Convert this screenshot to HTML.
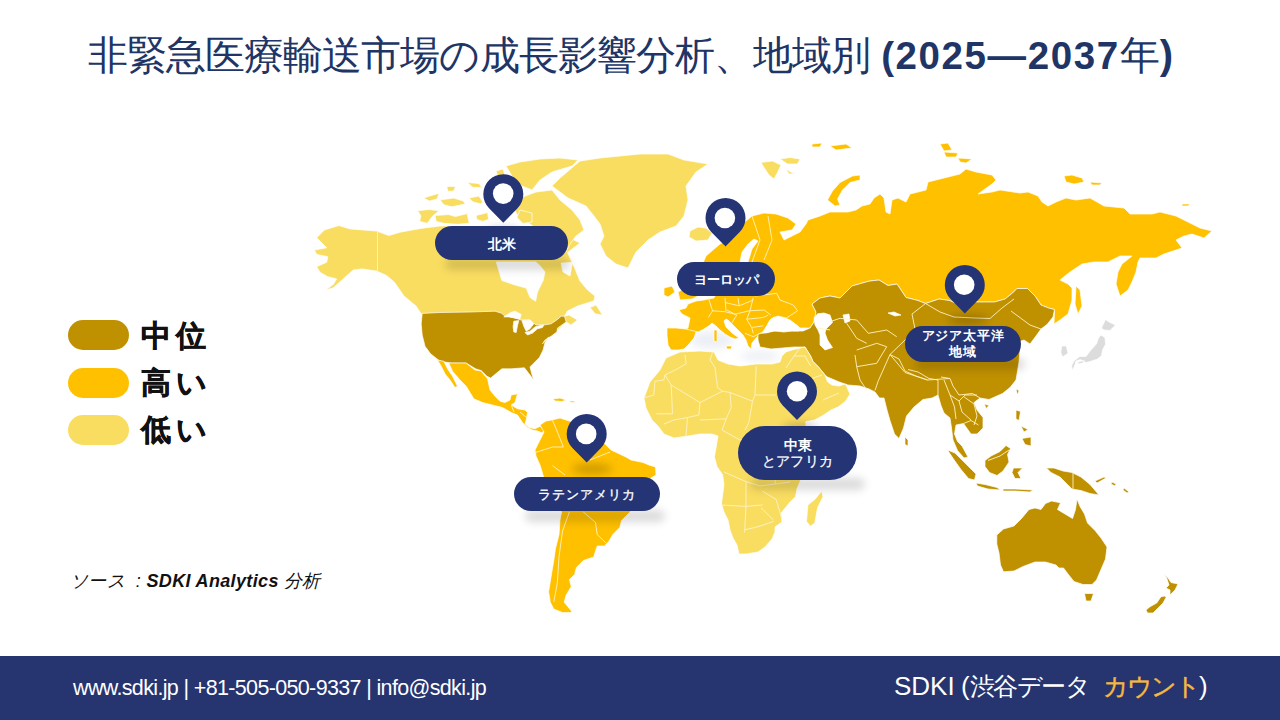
<!DOCTYPE html>
<html><head><meta charset="utf-8">
<style>
html,body{margin:0;padding:0;}
body{width:1280px;height:720px;position:relative;overflow:hidden;background:#fff;font-family:"Liberation Sans",sans-serif;}
.abs{position:absolute;}
.title{left:88px;top:27px;font-size:40px;line-height:56px;color:#203566;white-space:nowrap;letter-spacing:0px;}
.title b{font-weight:bold;}
.pill{position:absolute;left:68px;width:61px;height:30px;border-radius:15px;}
.leg{position:absolute;left:141px;font-size:30px;font-weight:bold;color:#111;line-height:36px;letter-spacing:4.5px;-webkit-text-stroke:0.5px #111;}
.src{left:70px;top:569px;font-size:18px;font-style:italic;color:#111;white-space:nowrap;letter-spacing:0.35px;}
.footer{left:0;top:656px;width:1280px;height:64px;background:#263470;}
.ft1{left:73px;top:676px;font-size:21.5px;letter-spacing:-0.65px;color:#fff;white-space:nowrap;}
.ft2{left:894px;top:670px;font-size:26px;color:#fff;white-space:nowrap;}
.lbl{position:absolute;background:#253475;color:#fff;font-weight:bold;font-size:13px;text-align:center;white-space:nowrap;}
svg{position:absolute;left:0;top:0;}
</style></head><body>
<div class="abs title"><span style="letter-spacing:-0.95px">非緊急医療輸送市場の成長影響分析、地域別</span> <b style="font-size:38.5px;letter-spacing:1.6px">(2025—2037</b>年<b>)</b></div>

<div class="pill" style="top:320px;background:#BF9000"></div>
<div class="pill" style="top:368px;background:#FFC000"></div>
<div class="pill" style="top:415px;background:#F9DD61"></div>
<div class="leg" style="top:318px">中位</div>
<div class="leg" style="top:365px">高い</div>
<div class="leg" style="top:412px">低い</div>

<div class="abs src">ソース&nbsp; : <b>SDKI Analytics</b> 分析</div>

<svg width="1280" height="720" viewBox="0 0 1280 720">
<defs>
<filter id="blur6" x="-50%" y="-100%" width="200%" height="300%"><feGaussianBlur stdDeviation="4"/></filter>
</defs>
<g filter="url(#blur6)" fill="#DDE2EC" opacity="0.55"><ellipse cx="712" cy="340" rx="22" ry="9"/><ellipse cx="760" cy="356" rx="20" ry="5"/><ellipse cx="520" cy="265" rx="25" ry="6"/></g>
<g stroke="#fff" stroke-width="0.7" stroke-linejoin="round">
<path d="M314.4 250.0 L326.7 247.8 L322.2 243.3 L316.7 237.8 L324.4 230.0 L338.9 225.6 L350.0 228.9 L376.7 231.1 L388.9 235.6 L400.0 232.2 L412.0 230.0 L424.0 228.0 L440.0 226.0 L460.0 226.0 L500.0 226.0 L540.0 228.0 L566.0 232.0 L574.0 240.0 L580.0 243.0 L567.5 252.5 L575.0 268.8 L580.0 281.0 L587.5 290.0 L595.0 296.0 L593.8 301.0 L577.5 306.0 L567.5 311.0 L564.4 316.2 L569.0 315.0 L577.5 320.0 L571.0 325.0 L566.2 321.9 L556.2 331.2 L548.8 336.9 L545.0 342.5 L543.1 350.0 L539.4 357.5 L530.0 366.9 L531.9 374.4 L533.8 380.0 L528.1 372.5 L524.4 367.8 L511.2 368.8 L501.9 368.8 L490.6 378.1 L486.9 376.2 L481.2 370.6 L475.6 368.8 L466.2 363.1 L451.2 363.1 L440.0 361.2 L437.5 360.0 L430.6 353.8 L425.0 346.2 L422.2 335.0 L421.2 323.8 L422.0 315.0 L416.0 306.0 L404.0 296.0 L394.4 282.2 L386.7 275.6 L376.7 271.1 L362.2 268.9 L353.3 270.0 L344.4 277.8 L333.3 287.8 L325.6 290.0 L333.3 284.4 L336.7 278.9 L327.8 276.7 L320.0 272.2 L316.7 266.7 L326.7 262.2 L327.8 256.7 L316.7 254.4Z" fill="#F9DD61"/>
<path d="M496.2 262.0 L501.9 280.6 L515.0 285.0 L526.2 288.1 L530.0 297.5 L535.6 301.2 L537.5 291.9 L543.1 280.6 L545.0 272.0 L539.4 265.0 L535.6 261.9Z" fill="#fff"/>
<path d="M561.0 263.0 L572.5 262.5 L570.0 276.0 L563.0 272.0Z" fill="#fff"/>
<path d="M590.0 307.5 L596.0 305.0 L602.5 315.0 L595.0 313.8Z" fill="#F9DD61"/>
<path d="M506.0 166.0 L520.0 162.0 L540.0 159.0 L560.0 158.0 L578.0 160.0 L572.0 166.0 L552.0 172.0 L540.0 180.0 L532.0 190.0 L522.0 186.0 L512.0 176.0Z" fill="#F9DD61"/>
<path d="M496.0 171.0 L503.0 169.0 L506.0 178.0 L499.0 180.0Z" fill="#F9DD61"/>
<path d="M520.0 198.0 L536.0 192.0 L552.0 190.0 L560.0 200.0 L572.0 210.0 L580.0 220.0 L584.0 230.0 L576.0 236.0 L570.0 244.0 L566.0 252.0 L556.0 248.0 L544.0 234.0 L530.0 224.0 L518.0 216.0 L512.0 206.0Z" fill="#F9DD61"/>
<path d="M520.0 210.0 L532.0 213.0 L532.0 222.0 L523.0 223.5 L517.0 217.5Z" fill="#F9DD61"/>
<path d="M417.6 210.7 L429.0 209.5 L439.0 210.7 L432.2 216.5 L427.4 223.3 L419.6 221.4 L421.0 216.0Z" fill="#F9DD61"/>
<path d="M435.1 215.5 L448.7 214.6 L455.5 216.5 L467.2 213.6 L469.1 223.3 L457.5 224.3 L443.9 223.3 L436.1 221.4Z" fill="#F9DD61"/>
<path d="M476.0 215.5 L487.6 212.6 L488.6 219.4 L482.7 221.4 L476.9 219.4Z" fill="#F9DD61"/>
<path d="M423.5 198.0 L439.0 193.2 L437.1 199.0 L429.3 201.0Z" fill="#F9DD61"/>
<path d="M440.0 200.0 L453.6 198.0 L463.3 201.0 L465.3 203.9 L451.7 206.8 L443.9 204.8Z" fill="#F9DD61"/>
<path d="M469.1 198.0 L478.9 196.1 L482.7 201.9 L480.8 203.9 L473.0 201.9Z" fill="#F9DD61"/>
<path d="M446.8 186.4 L455.5 186.4 L453.6 191.2 L447.8 191.2Z" fill="#F9DD61"/>
<path d="M467.2 182.5 L478.9 183.5 L481.8 187.4 L473.0 187.4Z" fill="#F9DD61"/>
<path d="M580.0 161.0 L600.0 158.0 L620.0 156.0 L640.0 154.0 L668.0 154.0 L684.0 160.0 L708.0 164.0 L696.0 172.0 L686.0 186.0 L688.0 200.0 L684.0 216.0 L676.0 226.0 L660.0 232.0 L648.0 240.0 L636.0 252.0 L628.0 268.0 L616.0 264.0 L606.0 256.0 L600.0 244.0 L604.0 236.0 L600.0 224.0 L594.0 216.0 L586.0 206.0 L568.0 198.0 L552.0 186.0 L560.0 178.0Z" fill="#F9DD61"/>
<path d="M690.0 231.0 L698.0 227.0 L706.0 228.0 L712.0 233.0 L708.0 240.0 L696.0 241.0 L689.0 237.0Z" fill="#F9DD61"/>
<path d="M761.0 162.5 L772.5 161.0 L781.0 165.0 L777.5 172.5 L774.0 179.0 L769.0 175.0 L764.0 167.5Z" fill="#F9DD61"/>
<path d="M780.0 159.0 L790.0 157.5 L800.0 159.0 L797.5 164.0 L787.5 164.0Z" fill="#F9DD61"/>
<path d="M786.0 169.0 L794.0 174.0 L789.0 174.0Z" fill="#F9DD61"/>
<path d="M422.2 313.4 L440.0 312.5 L470.0 312.0 L495.0 311.2 L501.2 313.1 L504.4 315.6 L515.0 318.0 L521.0 320.0 L530.0 320.0 L536.0 325.0 L543.8 325.0 L551.2 323.8 L557.5 319.4 L561.2 316.2 L564.4 316.2 L566.2 321.9 L557.5 328.1 L556.9 331.9 L551.2 336.2 L545.0 340.0 L542.5 343.8 L548.8 336.9 L545.0 342.5 L543.1 350.0 L539.4 357.5 L530.0 366.9 L531.9 374.4 L533.8 380.0 L528.1 372.5 L524.4 367.8 L511.2 368.8 L501.9 368.8 L490.6 378.1 L486.9 376.2 L481.2 370.6 L475.6 368.8 L466.2 363.1 L451.2 363.1 L440.0 361.2 L430.6 353.8 L425.0 346.2 L422.2 335.0 L421.2 323.8Z" fill="#BF9000"/>
<path d="M448.8 363.0 L466.0 363.0 L475.0 370.0 L481.0 371.0 L487.5 378.8 L490.0 390.0 L495.0 396.2 L500.0 401.2 L505.0 402.5 L510.0 400.0 L511.2 395.0 L517.5 393.8 L515.0 402.5 L511.2 405.0 L517.5 408.8 L525.0 410.0 L527.5 412.5 L526.2 420.0 L525.0 423.8 L528.8 427.5 L535.0 428.8 L540.0 426.2 L543.8 430.0 L542.5 433.0 L537.5 431.0 L532.5 430.0 L527.5 427.5 L522.5 422.5 L517.5 415.0 L511.2 412.5 L502.5 407.5 L492.5 405.0 L482.5 402.5 L473.8 398.8 L470.0 392.5 L466.2 386.2 L460.0 380.0 L452.5 371.2Z" fill="#FFC000"/>
<path d="M437.5 360.0 L443.8 361.2 L447.5 368.8 L452.5 376.2 L457.5 386.2 L455.0 387.5 L450.0 380.0 L445.0 373.8 L441.2 366.2Z" fill="#FFC000"/>
<path d="M553.0 399.0 L560.0 398.0 L566.0 400.0 L562.0 401.5 L555.0 401.0Z" fill="#FFC000"/>
<path d="M570.0 401.0 L575.0 401.0 L574.0 402.5 L570.0 402.5Z" fill="#FFC000"/>
<path d="M540.0 425.0 L546.0 421.0 L552.0 420.0 L560.0 418.0 L566.0 420.0 L580.0 424.0 L597.0 437.5 L605.0 444.0 L611.0 450.0 L626.0 457.0 L631.0 460.0 L643.0 462.5 L649.0 465.0 L655.6 467.0 L656.0 475.0 L651.0 478.0 L640.0 500.0 L630.0 512.0 L621.5 520.6 L619.8 527.5 L612.8 534.5 L608.6 541.7 L604.2 546.0 L597.2 546.0 L595.5 551.0 L593.7 557.0 L583.3 560.5 L576.4 567.5 L574.6 574.4 L569.4 579.6 L571.2 586.6 L566.0 595.3 L564.2 602.2 L571.2 610.8 L572.0 612.6 L562.5 612.6 L553.8 609.0 L550.3 602.2 L548.6 591.8 L550.3 581.4 L552.0 571.0 L553.8 560.5 L555.5 548.4 L559.0 534.5 L560.0 520.0 L561.6 512.0 L548.0 490.0 L543.0 475.0 L540.0 465.0 L536.0 456.0 L535.0 450.0 L540.0 440.0 L544.0 432.0Z" fill="#FFC000"/>
<path d="M706.0 256.0 L720.0 244.0 L728.0 240.0 L740.0 226.0 L752.0 216.0 L764.0 213.0 L776.0 214.0 L788.0 218.0 L796.0 224.0 L792.0 230.0 L780.0 232.0 L784.0 240.0 L792.0 236.0 L800.0 232.0 L806.0 224.0 L808.0 220.0 L820.0 216.0 L830.0 212.0 L848.0 212.0 L856.0 210.0 L862.0 206.0 L870.0 204.0 L874.0 198.0 L880.0 194.0 L884.0 198.0 L886.0 212.0 L890.0 214.0 L892.0 200.0 L898.0 198.0 L906.0 202.0 L910.0 194.0 L926.0 190.0 L928.0 182.0 L944.0 178.0 L960.0 174.0 L966.0 169.0 L976.0 172.0 L992.0 175.0 L996.0 180.0 L992.0 184.0 L978.0 194.0 L992.0 192.0 L1000.0 190.0 L1020.0 193.0 L1028.0 192.0 L1038.0 196.0 L1042.0 202.0 L1048.0 206.0 L1056.0 202.0 L1066.0 198.0 L1076.0 200.0 L1090.0 198.0 L1104.0 206.0 L1124.0 208.0 L1130.0 214.0 L1152.0 214.0 L1160.0 212.0 L1176.0 216.0 L1192.0 224.0 L1200.0 228.0 L1212.0 231.0 L1204.0 238.0 L1192.0 234.0 L1184.0 236.0 L1176.0 240.0 L1182.0 248.0 L1164.0 254.0 L1156.0 258.0 L1140.0 258.0 L1138.0 262.0 L1136.0 272.0 L1132.0 282.0 L1128.0 290.0 L1120.0 296.0 L1116.0 284.0 L1118.0 272.0 L1122.0 264.0 L1132.0 256.0 L1120.0 256.0 L1108.0 262.0 L1094.0 262.0 L1082.0 264.0 L1070.0 272.0 L1060.0 280.0 L1068.0 284.0 L1072.0 288.0 L1072.0 300.0 L1068.0 314.0 L1060.0 320.0 L1054.0 324.0 L1054.5 309.5 L1048.5 308.0 L1041.0 305.0 L1035.0 296.0 L1027.5 288.5 L1017.0 288.5 L1012.5 293.0 L1005.0 299.0 L994.5 302.0 L975.0 302.0 L960.0 305.0 L949.5 300.5 L939.0 299.0 L925.5 303.5 L918.0 300.5 L906.0 297.5 L897.0 284.0 L888.0 285.5 L879.0 280.0 L870.0 281.0 L866.0 282.0 L852.0 286.0 L840.0 298.0 L830.0 296.0 L820.0 298.0 L812.0 304.0 L816.0 312.0 L814.0 322.0 L810.0 328.0 L800.0 328.0 L790.0 320.0 L782.0 318.0 L774.0 317.0 L770.0 320.0 L766.0 328.0 L764.0 332.0 L758.0 336.0 L756.0 338.0 L752.0 343.0 L751.0 349.0 L748.0 346.0 L746.0 340.0 L743.0 335.0 L738.0 330.0 L732.0 324.0 L728.0 320.0 L726.0 319.0 L724.0 321.0 L726.0 327.0 L732.0 333.0 L739.0 338.0 L735.0 339.0 L730.0 337.0 L725.0 334.0 L720.0 330.0 L716.0 326.0 L712.0 323.0 L710.0 325.0 L704.0 329.0 L698.0 332.0 L696.0 332.0 L694.0 338.0 L689.0 344.0 L684.0 349.0 L678.0 350.0 L671.0 350.0 L668.0 345.0 L667.0 335.0 L667.0 328.0 L676.0 328.0 L686.0 329.0 L688.0 328.0 L690.0 318.0 L682.0 314.0 L679.0 310.0 L686.0 308.0 L688.0 304.0 L696.0 301.0 L704.0 300.0 L708.0 299.0 L714.0 298.0 L718.0 290.0 L712.0 282.0 L706.0 290.0 L700.0 284.0 L700.0 270.0Z" fill="#FFC000"/>
<path d="M740.0 262.0 L742.0 252.0 L748.0 244.0 L754.0 239.0 L758.0 241.0 L752.0 249.0 L748.0 262.0Z" fill="#fff"/>
<path d="M664.0 288.0 L672.0 286.0 L675.0 292.0 L668.0 297.0 L664.0 295.0Z" fill="#FFC000"/>
<path d="M678.0 292.0 L690.0 286.0 L698.0 296.0 L692.0 299.0 L680.0 300.0Z" fill="#FFC000"/>
<path d="M827.5 200.0 L832.5 191.0 L840.0 182.5 L852.5 176.0 L860.0 175.0 L860.0 180.0 L850.0 182.5 L842.5 190.0 L837.5 199.0 L840.0 205.0 L835.0 206.0Z" fill="#FFC000"/>
<path d="M940.0 144.0 L948.0 143.0 L952.0 150.0 L944.0 151.0Z" fill="#FFC000"/>
<path d="M944.0 152.0 L958.0 153.0 L956.0 157.0 L946.0 157.0Z" fill="#FFC000"/>
<path d="M958.0 158.0 L972.0 159.0 L966.0 163.0 L960.0 162.0Z" fill="#FFC000"/>
<path d="M1064.0 178.0 L1078.0 177.0 L1084.0 180.0 L1072.0 183.0Z" fill="#FFC000"/>
<path d="M1090.0 182.0 L1102.0 183.0 L1100.0 185.0 L1092.0 185.0Z" fill="#FFC000"/>
<path d="M1182.0 204.0 L1190.0 204.0 L1188.0 206.0 L1182.0 206.0Z" fill="#FFC000"/>
<path d="M812.0 144.0 L822.0 143.0 L820.0 147.0 L812.0 147.0Z" fill="#FFC000"/>
<path d="M830.0 146.0 L846.0 144.0 L852.0 148.0 L836.0 150.0Z" fill="#FFC000"/>
<path d="M1076.0 286.0 L1080.0 290.0 L1082.0 306.0 L1078.0 314.0 L1075.0 304.0Z" fill="#FFC000"/>
<path d="M758.0 334.0 L768.0 332.0 L780.0 330.0 L794.0 331.0 L803.0 331.0 L810.0 328.0 L814.0 322.0 L816.0 312.0 L812.0 304.0 L820.0 298.0 L830.0 296.0 L840.0 298.0 L852.0 286.0 L866.0 282.0 L870.0 281.0 L879.0 280.0 L888.0 285.5 L897.0 284.0 L906.0 297.5 L918.0 300.5 L925.5 303.5 L930.0 302.0 L939.0 299.0 L949.5 300.5 L960.0 305.0 L975.0 302.0 L984.0 302.0 L994.5 302.0 L1005.0 299.0 L1012.5 293.0 L1017.0 288.5 L1027.5 288.5 L1035.0 296.0 L1041.0 305.0 L1048.5 308.0 L1054.5 309.5 L1053.0 317.0 L1047.0 324.5 L1041.0 329.0 L1036.0 336.0 L1030.0 344.0 L1024.0 340.0 L1018.0 342.0 L1020.0 350.0 L1019.0 362.0 L1017.5 371.0 L1016.0 380.0 L1010.0 387.5 L1002.5 393.5 L989.0 399.5 L980.0 398.0 L974.0 402.5 L977.0 410.0 L983.0 417.5 L983.0 428.0 L977.0 434.0 L971.0 434.0 L963.5 423.5 L956.0 425.0 L954.5 434.0 L957.5 441.5 L962.0 446.0 L968.0 457.0 L964.0 458.0 L957.5 450.5 L953.0 440.0 L951.5 428.0 L950.0 418.0 L944.0 413.0 L941.0 405.5 L938.0 395.0 L932.0 398.0 L923.0 399.5 L914.0 407.0 L906.5 416.0 L903.5 428.0 L899.0 438.5 L894.5 434.0 L890.0 420.5 L887.0 410.0 L884.0 398.0 L879.5 398.0 L875.0 392.0 L869.0 389.0 L860.0 386.0 L847.8 385.0 L838.8 381.8 L827.5 377.0 L825.0 375.0 L818.5 367.0 L813.0 361.5 L810.6 356.0 L805.0 347.0 L794.0 347.0 L782.5 348.0 L771.0 349.0 L760.0 347.0 L758.0 340.0Z" fill="#BF9000"/>
<path d="M905.0 437.0 L908.0 440.0 L908.0 446.0 L905.0 444.5Z" fill="#BF9000"/>
<path d="M984.5 404.0 L989.0 405.5 L986.0 408.5Z" fill="#BF9000"/>
<path d="M1016.0 389.0 L1019.0 390.5 L1017.5 395.0Z" fill="#BF9000"/>
<path d="M1016.0 410.0 L1020.5 411.5 L1019.0 420.5 L1016.0 419.0Z" fill="#BF9000"/>
<path d="M1022.0 438.5 L1031.0 437.0 L1031.0 446.0 L1025.0 444.5Z" fill="#BF9000"/>
<path d="M1021.0 426.0 L1028.0 429.5 L1024.0 432.0Z" fill="#BF9000"/>
<path d="M947.5 450.0 L955.0 453.0 L964.0 462.0 L973.0 471.0 L976.0 474.0 L974.5 480.0 L968.5 478.5 L961.0 469.5 L953.5 459.0Z" fill="#BF9000"/>
<path d="M976.0 483.0 L985.0 484.5 L997.0 487.5 L1000.0 490.0 L988.0 489.0 L977.5 486.0Z" fill="#BF9000"/>
<path d="M1003.0 489.0 L1015.0 489.0 L1033.0 490.0 L1030.0 492.0 L1015.0 491.0 L1003.0 491.0Z" fill="#BF9000"/>
<path d="M985.0 460.5 L991.0 456.0 L1000.0 451.5 L1006.0 445.5 L1010.5 448.5 L1007.5 454.5 L1009.0 462.0 L1003.0 471.0 L997.0 475.5 L989.5 472.5 L985.0 466.5Z" fill="#BF9000"/>
<path d="M1013.5 468.0 L1022.5 468.0 L1018.0 472.5 L1021.0 478.5 L1015.0 478.5 L1012.0 472.5Z" fill="#BF9000"/>
<path d="M1046.5 468.0 L1054.0 468.0 L1063.0 471.0 L1072.0 472.5 L1081.0 477.0 L1090.0 484.5 L1099.0 495.0 L1090.0 493.5 L1081.0 490.5 L1072.0 489.0 L1067.5 484.5 L1060.0 477.0 L1051.0 472.5Z" fill="#BF9000"/>
<path d="M996.8 535.0 L1003.5 529.0 L1014.0 526.0 L1021.5 518.5 L1029.0 509.5 L1035.0 508.0 L1041.0 509.5 L1045.5 503.5 L1051.5 501.0 L1060.5 502.8 L1057.5 509.5 L1065.0 514.0 L1072.5 518.5 L1075.5 509.5 L1077.0 499.0 L1080.0 506.5 L1084.5 514.0 L1087.5 523.0 L1095.0 530.5 L1101.0 538.0 L1107.0 547.0 L1105.5 559.0 L1101.0 569.5 L1096.5 580.0 L1092.0 584.5 L1083.0 584.5 L1074.0 581.5 L1068.0 574.0 L1063.5 568.0 L1059.0 568.0 L1056.0 565.0 L1045.5 562.0 L1035.0 562.0 L1023.0 566.5 L1014.0 571.0 L1003.5 571.8 L1000.5 565.0 L999.0 553.0 L996.8 544.0Z" fill="#BF9000"/>
<path d="M1084.5 593.5 L1093.5 593.5 L1091.0 601.0 L1086.0 601.0Z" fill="#BF9000"/>
<path d="M1164.0 574.0 L1168.0 578.0 L1171.0 582.5 L1178.0 584.0 L1175.0 590.0 L1170.0 595.0 L1170.0 590.0 L1166.0 588.0 L1169.0 585.0 L1166.7 578.0Z" fill="#BF9000"/>
<path d="M1165.0 596.0 L1166.0 597.5 L1163.0 603.0 L1158.0 608.0 L1153.0 613.0 L1147.5 613.0 L1146.0 610.0 L1150.0 606.7 L1156.7 603.0 L1161.0 596.7Z" fill="#BF9000"/>
<path d="M666.0 358.0 L680.0 352.0 L700.0 351.0 L714.0 352.0 L718.0 360.0 L728.0 364.0 L740.0 366.0 L756.0 364.0 L772.0 364.0 L780.0 362.0 L782.0 356.0 L786.0 352.0 L792.0 350.0 L800.0 348.0 L805.0 347.0 L810.6 356.0 L813.0 361.5 L818.5 367.0 L825.0 375.0 L827.5 381.8 L832.0 385.0 L838.8 386.0 L845.5 384.0 L850.0 394.0 L845.5 401.3 L838.0 407.0 L831.0 410.0 L823.3 415.3 L814.6 420.0 L805.8 421.5 L806.0 428.0 L840.0 428.0 L820.0 455.0 L805.0 470.0 L797.0 488.5 L795.5 496.8 L790.0 502.0 L786.0 507.0 L781.0 513.0 L782.0 522.0 L775.0 527.0 L775.0 532.0 L772.0 539.0 L765.0 547.0 L758.0 552.0 L746.0 554.0 L739.0 554.0 L737.0 545.0 L733.0 538.0 L730.0 530.0 L728.0 520.0 L724.0 512.0 L721.0 502.0 L721.2 505.0 L722.6 495.4 L724.0 484.4 L722.6 474.7 L717.0 466.5 L714.4 456.9 L716.0 448.0 L718.0 436.0 L712.0 434.0 L700.0 434.0 L688.0 436.0 L674.0 438.0 L664.0 434.0 L658.0 426.0 L652.0 420.0 L646.0 408.0 L644.0 398.0 L650.0 382.0 L660.0 370.0Z" fill="#F9DD61"/>
<path d="M821.6 491.2 L823.0 496.8 L817.5 507.8 L814.8 522.9 L810.6 526.3 L806.5 521.5 L807.9 505.0 L814.8 499.5Z" fill="#F9DD61"/>
<path d="M1101.0 335.0 L1105.0 337.5 L1105.5 344.3 L1102.5 350.0 L1101.6 355.5 L1097.5 359.0 L1090.0 361.6 L1086.0 362.5 L1080.5 359.5 L1076.0 361.0 L1075.0 364.5 L1072.6 370.5 L1071.5 366.0 L1074.0 361.0 L1079.8 356.4 L1086.0 356.5 L1090.2 351.0 L1096.5 343.8 L1098.5 338.0Z" fill="#DCDCDC"/>
<path d="M1105.5 319.5 L1109.0 322.0 L1115.5 325.0 L1110.0 330.5 L1104.0 330.0 L1101.5 328.0Z" fill="#DCDCDC"/>
<path d="M1061.7 346.0 L1066.3 346.0 L1068.0 353.3 L1062.6 357.0 L1060.8 352.4Z" fill="#DCDCDC"/>
<path d="M1078.0 362.0 L1084.0 360.5 L1083.0 363.0 L1078.0 364.0Z" fill="#DCDCDC"/>
<path d="M817.5 313.8 L824.0 313.0 L830.0 315.0 L832.5 322.5 L826.0 329.0 L825.0 333.0 L827.5 340.0 L832.5 347.5 L825.0 350.0 L820.0 345.0 L820.0 335.0 L818.0 330.0 L815.0 325.0 L814.0 318.0Z" fill="#fff"/>
<path d="M843.0 315.0 L849.0 314.0 L850.0 321.0 L845.0 323.0Z" fill="#fff"/>
<path d="M888.0 313.0 L894.0 312.0 L901.0 315.0 L895.0 316.0Z" fill="#fff"/>
<path d="M762.0 333.0 L766.0 327.0 L771.0 319.0 L778.0 316.0 L786.0 318.0 L792.0 322.0 L798.0 326.0 L799.0 331.0 L792.0 331.0 L784.0 332.0 L774.0 331.0 L766.0 333.0Z" fill="#fff"/>
<path d="M503.8 316.9 L510.6 312.5 L515.0 311.2 L521.2 314.4 L520.0 318.8 L515.0 318.1 L509.4 316.9Z" fill="#fff"/>
<path d="M513.8 321.2 L518.8 320.6 L517.5 325.6 L516.2 332.5 L513.8 331.9 L513.1 326.9Z" fill="#fff"/>
<path d="M521.9 320.6 L530.0 320.0 L533.8 323.8 L530.0 328.8 L526.2 331.2 L523.8 326.2Z" fill="#fff"/>
<path d="M525.0 332.5 L530.0 331.2 L535.0 326.9 L540.0 325.6 L543.8 325.0 L542.5 327.5 L537.5 328.8 L532.5 333.1 L527.5 335.0Z" fill="#fff"/>
<path d="M714.0 330.0 L717.0 330.0 L717.0 342.0 L714.0 341.0Z" fill="#FFC000"/>
<path d="M726.0 346.0 L732.0 346.0 L731.0 349.0 L727.0 349.0Z" fill="#FFC000"/>
<path d="M1095.0 481.0 L1104.0 477.0 L1106.0 478.0 L1097.0 483.0Z" fill="#BF9000"/>
<path d="M1112.0 482.0 L1116.0 484.0 L1115.0 486.0 L1111.0 484.0Z" fill="#BF9000"/>
<path d="M1124.0 488.0 L1129.0 492.0 L1127.0 493.0 L1123.0 490.0Z" fill="#BF9000"/>
<path d="M1064.0 176.0 L1072.0 175.0 L1082.0 178.0 L1084.0 182.0 L1074.0 184.0 L1066.0 182.0Z" fill="#FFC000"/>
<polyline fill="none" stroke="#FFF3C4" stroke-width="0.9" points="377.5,231.0 377.5,273.0"/>
<polyline fill="none" stroke="#FFF3C4" stroke-width="0.9" points="685.0,355.0 686.2,363.8 677.5,368.8 665.0,375.0 663.8,380.0"/>
<polyline fill="none" stroke="#FFF3C4" stroke-width="0.9" points="663.8,380.0 655.0,381.2 653.8,395.0 645.0,397.5"/>
<polyline fill="none" stroke="#FFF3C4" stroke-width="0.9" points="665.0,375.0 671.2,385.0 672.5,413.8 656.2,413.8"/>
<polyline fill="none" stroke="#FFF3C4" stroke-width="0.9" points="671.2,385.0 700.0,402.5 722.5,391.2"/>
<polyline fill="none" stroke="#FFF3C4" stroke-width="0.9" points="712.5,352.5 710.0,360.0 715.0,367.5 717.5,387.5 722.5,391.2"/>
<polyline fill="none" stroke="#FFF3C4" stroke-width="0.9" points="722.5,391.2 730.0,392.5 752.5,401.2"/>
<polyline fill="none" stroke="#FFF3C4" stroke-width="0.9" points="756.2,366.2 755.0,395.0 752.5,401.2"/>
<polyline fill="none" stroke="#FFF3C4" stroke-width="0.9" points="755.0,395.0 776.2,395.0"/>
<polyline fill="none" stroke="#FFF3C4" stroke-width="0.9" points="700.0,402.5 698.8,415.0 687.5,417.5 673.8,420.0 664.0,424.0"/>
<polyline fill="none" stroke="#FFF3C4" stroke-width="0.9" points="752.5,401.2 748.8,422.5 745.0,430.0"/>
<polyline fill="none" stroke="#FFF3C4" stroke-width="0.9" points="730.0,392.5 731.2,407.5 726.2,418.8 722.0,430.0"/>
<polyline fill="none" stroke="#FFF3C4" stroke-width="0.9" points="700.0,420.0 726.2,418.8"/>
<polyline fill="none" stroke="#FFF3C4" stroke-width="0.9" points="687.5,417.5 686.0,436.0"/>
<polyline fill="none" stroke="#FFF3C4" stroke-width="0.9" points="722.0,430.0 740.0,440.0 760.0,438.0 775.0,432.0"/>
<polyline fill="none" stroke="#FFF3C4" stroke-width="0.9" points="724.0,472.0 746.0,481.6 746.0,506.4"/>
<polyline fill="none" stroke="#FFF3C4" stroke-width="0.9" points="721.2,505.0 746.0,506.4 762.5,505.0"/>
<polyline fill="none" stroke="#FFF3C4" stroke-width="0.9" points="746.0,506.4 744.6,532.5"/>
<polyline fill="none" stroke="#FFF3C4" stroke-width="0.9" points="744.6,529.8 757.0,527.0 773.5,521.5"/>
<polyline fill="none" stroke="#FFF3C4" stroke-width="0.9" points="761.0,507.8 773.5,520.0"/>
<polyline fill="none" stroke="#FFF3C4" stroke-width="0.9" points="776.2,499.5 781.8,518.8"/>
<polyline fill="none" stroke="#FFF3C4" stroke-width="0.9" points="762.5,491.2 776.2,499.5"/>
<polyline fill="none" stroke="#FFF3C4" stroke-width="0.9" points="746.0,481.6 760.0,486.0 775.0,484.0 790.0,482.0"/>
<polyline fill="none" stroke="#FFF3C4" stroke-width="0.9" points="775.0,484.0 776.0,470.0"/>
<polyline fill="none" stroke="#FFF3C4" stroke-width="0.9" points="786.0,368.0 794.0,356.0 805.0,356.0 810.6,366.0"/>
<polyline fill="none" stroke="#FFF3C4" stroke-width="0.9" points="794.0,356.0 800.0,348.0"/>
<polyline fill="none" stroke="#FFF3C4" stroke-width="0.9" points="823.0,400.0 838.8,393.0"/>
<polyline fill="none" stroke="#FFF3C4" stroke-width="0.9" points="807.0,380.0 822.0,375.0"/>
<polyline fill="none" stroke="#FFF3C4" stroke-width="0.9" points="686.0,329.0 698.0,332.0"/>
<polyline fill="none" stroke="#FFF3C4" stroke-width="0.9" points="708.3,297.5 712.5,310.8 708.3,317.5"/>
<polyline fill="none" stroke="#FFF3C4" stroke-width="0.9" points="712.5,310.8 725.0,311.7 735.0,314.2 749.2,310.8 764.2,310.0 770.8,315.0"/>
<polyline fill="none" stroke="#FFF3C4" stroke-width="0.9" points="725.0,302.5 739.2,305.8 753.3,300.0"/>
<polyline fill="none" stroke="#FFF3C4" stroke-width="0.9" points="753.3,297.5 750.0,310.8 746.7,319.2 751.7,327.5 753.3,333.3"/>
<polyline fill="none" stroke="#FFF3C4" stroke-width="0.9" points="726.7,310.0 736.7,315.0 731.7,323.3"/>
<polyline fill="none" stroke="#FFF3C4" stroke-width="0.9" points="746.7,319.2 763.3,317.5 768.3,315.0"/>
<polyline fill="none" stroke="#FFF3C4" stroke-width="0.9" points="751.7,327.5 763.3,325.8"/>
<polyline fill="none" stroke="#FFF3C4" stroke-width="0.9" points="745.0,333.3 753.3,336.7 763.3,331.7"/>
<polyline fill="none" stroke="#FFF3C4" stroke-width="0.9" points="776.7,293.3 780.0,300.0 793.3,305.0 797.5,310.8 783.3,320.0"/>
<polyline fill="none" stroke="#FFF3C4" stroke-width="0.9" points="725.0,298.0 726.0,311.0"/>
<polyline fill="none" stroke="#FFF3C4" stroke-width="0.9" points="738.0,298.0 739.2,305.8"/>
<polyline fill="none" stroke="#FFF3C4" stroke-width="0.9" points="755.0,296.0 776.7,293.3"/>
<polyline fill="none" stroke="#FFF3C4" stroke-width="0.9" points="724.0,246.0 740.0,226.0"/>
<polyline fill="none" stroke="#FFF3C4" stroke-width="0.9" points="752.0,216.0 760.0,240.0 752.0,262.0"/>
<polyline fill="none" stroke="#FFF3C4" stroke-width="0.9" points="768.0,216.0 772.0,240.0 764.0,260.0"/>
<polyline fill="none" stroke="#FFF3C4" stroke-width="0.9" points="925.5,303.5 912.0,314.0 915.0,329.0 905.0,340.0 890.0,354.5"/>
<polyline fill="none" stroke="#FFF3C4" stroke-width="0.9" points="925.5,303.5 940.0,312.0 954.0,317.0 975.0,318.0 990.0,318.5 1002.0,308.0 1014.0,299.0"/>
<polyline fill="none" stroke="#FFF3C4" stroke-width="0.9" points="890.0,354.5 905.0,372.5 927.5,380.0 950.0,378.5"/>
<polyline fill="none" stroke="#FFF3C4" stroke-width="0.9" points="890.0,354.5 878.0,381.5 875.0,390.5"/>
<polyline fill="none" stroke="#FFF3C4" stroke-width="0.9" points="944.0,380.0 950.0,395.0 959.0,401.0 965.0,395.0 977.0,395.0"/>
<polyline fill="none" stroke="#FFF3C4" stroke-width="0.9" points="959.0,401.0 962.0,412.0 971.0,420.0"/>
<polyline fill="none" stroke="#FFF3C4" stroke-width="0.9" points="988.0,460.5 1000.0,456.0 1009.0,450.0"/>
<polyline fill="none" stroke="#FFF3C4" stroke-width="0.9" points="1073.0,472.0 1073.0,490.0"/>
<polyline fill="none" stroke="#FFF3C4" stroke-width="0.9" points="818.0,328.0 830.0,330.0"/>
<polyline fill="none" stroke="#FFF3C4" stroke-width="0.9" points="1011.0,311.0 1030.0,325.0 1041.0,329.0"/>
<polyline fill="none" stroke="#FFF3C4" stroke-width="0.9" points="552.5,420.3 557.0,431.0 563.4,447.0"/>
<polyline fill="none" stroke="#FFF3C4" stroke-width="0.9" points="533.8,453.0 552.5,447.0 563.4,447.0"/>
<polyline fill="none" stroke="#FFF3C4" stroke-width="0.9" points="552.5,465.6 565.0,475.0"/>
<polyline fill="none" stroke="#FFF3C4" stroke-width="0.9" points="569.4,512.0 562.5,531.0 559.0,557.0 557.3,583.0 553.8,602.0"/>
<polyline fill="none" stroke="#FFF3C4" stroke-width="0.9" points="583.3,512.0 595.5,522.4 597.2,534.5 606.0,543.0"/>
<polyline fill="none" stroke="#FFF3C4" stroke-width="0.9" points="590.0,460.0 610.0,452.0"/>
<polyline fill="none" stroke="#FFF3C4" stroke-width="0.9" points="511.2,405.0 514.0,412.0"/>
<polyline fill="none" stroke="#FFF3C4" stroke-width="0.9" points="520.0,412.0 527.0,418.0"/>
<polyline fill="none" stroke="#FFF3C4" stroke-width="0.9" points="905.0,371.0 916.0,376.0 927.5,380.0"/>
<polyline fill="none" stroke="#FFF3C4" stroke-width="0.9" points="908.0,369.5 918.0,372.0 929.0,378.5"/>
<polyline fill="none" stroke="#FFF3C4" stroke-width="0.9" points="929.0,378.5 938.0,380.0 938.0,395.0"/>
<polyline fill="none" stroke="#FFF3C4" stroke-width="0.9" points="941.0,377.0 950.0,378.5 953.0,386.0 959.0,395.0"/>
<polyline fill="none" stroke="#FFF3C4" stroke-width="0.9" points="950.0,395.0 954.5,407.0 956.0,419.0"/>
<polyline fill="none" stroke="#FFF3C4" stroke-width="0.9" points="963.5,396.5 974.0,404.0 977.0,416.0 974.0,425.0"/>
<polyline fill="none" stroke="#FFF3C4" stroke-width="0.9" points="963.5,423.5 971.0,420.5 978.5,425.0"/>
<polyline fill="none" stroke="#FFF3C4" stroke-width="0.9" points="959.0,395.0 972.5,393.5 980.0,398.0"/>
<polyline fill="none" stroke="#FFF3C4" stroke-width="0.9" points="890.0,354.5 899.0,359.0 905.0,371.0"/>
<polyline fill="none" stroke="#FFF3C4" stroke-width="0.9" points="830.0,321.7 840.0,318.3 856.7,320.0 868.3,333.3 886.7,330.0 896.7,336.7"/>
<polyline fill="none" stroke="#FFF3C4" stroke-width="0.9" points="846.7,323.3 856.7,338.3 866.7,343.3"/>
<polyline fill="none" stroke="#FFF3C4" stroke-width="0.9" points="856.7,350.0 876.7,343.3 886.7,346.7 876.7,363.3 856.7,366.7 855.0,355.0"/>
<polyline fill="none" stroke="#FFF3C4" stroke-width="0.9" points="856.7,366.7 860.0,380.0 866.7,390.0"/>
</g>
<!-- label shadows -->
<g fill="#000" opacity="0.14" filter="url(#blur6)">
<rect x="445" y="258" width="125" height="12" rx="6"/>
<rect x="525" y="510" width="140" height="12" rx="6"/>
<rect x="750" y="478" width="115" height="12" rx="6"/>
<rect x="915" y="358" width="110" height="12" rx="6"/>

</g>
<g fill="#000" opacity="0.2" filter="url(#blur6)">
<ellipse cx="503" cy="232" rx="18" ry="5"/>
<ellipse cx="592" cy="469" rx="20" ry="5"/>
<ellipse cx="968" cy="320" rx="20" ry="5"/>
<ellipse cx="800" cy="428" rx="18" ry="5"/>
</g>
<!-- pins -->
<g fill="#253475">
<path transform="translate(503.3,194.2)" d="M0 28.5 L-14.24 14.04 A20 20 0 1 1 14.24 14.04 Z"/>
<path transform="translate(725.5,218)" d="M0 28.5 L-14.24 14.04 A20 20 0 1 1 14.24 14.04 Z"/>
<path transform="translate(964.8,285)" d="M0 28.5 L-14.24 14.04 A20 20 0 1 1 14.24 14.04 Z"/>
<path transform="translate(797,391.5)" d="M0 28.5 L-14.24 14.04 A20 20 0 1 1 14.24 14.04 Z"/>
<path transform="translate(586.7,434)" d="M0 28.5 L-14.24 14.04 A20 20 0 1 1 14.24 14.04 Z"/>
</g>
<g fill="#fff">
<circle cx="503.2" cy="193.6" r="10.3"/>
<circle cx="724.9" cy="218" r="10.3"/>
<circle cx="964.2" cy="284.8" r="10.3"/>
<circle cx="797.1" cy="391.2" r="10.3"/>
<circle cx="586.2" cy="433.9" r="10.3"/>
</g>
</svg>

<div class="lbl" style="left:435px;top:226px;width:133px;height:34px;border-radius:17px;line-height:37px;font-size:14px;">北米</div>
<div class="lbl" style="left:677px;top:262px;width:98px;height:34px;border-radius:17px;line-height:35px;letter-spacing:0px;font-size:13px;">ヨーロッパ</div>
<div class="lbl" style="left:905px;top:326px;width:116px;height:36px;border-radius:18px;line-height:15.5px;padding-top:2px;box-sizing:border-box;letter-spacing:0.8px;">アジア太平洋<br>地域</div>
<div class="lbl" style="left:738px;top:426px;width:119px;height:54px;border-radius:27px;line-height:16px;padding-top:11px;box-sizing:border-box;font-size:14px;">中東<br><span style="font-weight:normal;letter-spacing:0.2px;font-size:13.5px;-webkit-text-stroke:0.25px #fff">とアフリカ</span></div>
<div class="lbl" style="left:514px;top:477px;width:146px;height:34px;border-radius:17px;line-height:36px;font-weight:normal;letter-spacing:0.9px;-webkit-text-stroke:0.35px #fff;">ラテンアメリカ</div>

<div class="abs footer"></div>
<div class="abs ft1">www.sdki.jp | +81-505-050-9337 | info@sdki.jp</div>
<div class="abs ft2"><span id="sdki">SDKI</span> <span id="paren" style="margin-left:-1px">(</span><span id="cjk1" style="font-size:25px;letter-spacing:-1.5px">渋谷データ </span><span id="cjk2" style="margin-left:8px;font-size:25px;color:#F5B841;-webkit-text-stroke:0.4px #F5B841;letter-spacing:-1.9px">カウント</span>)</div>
</body></html>
